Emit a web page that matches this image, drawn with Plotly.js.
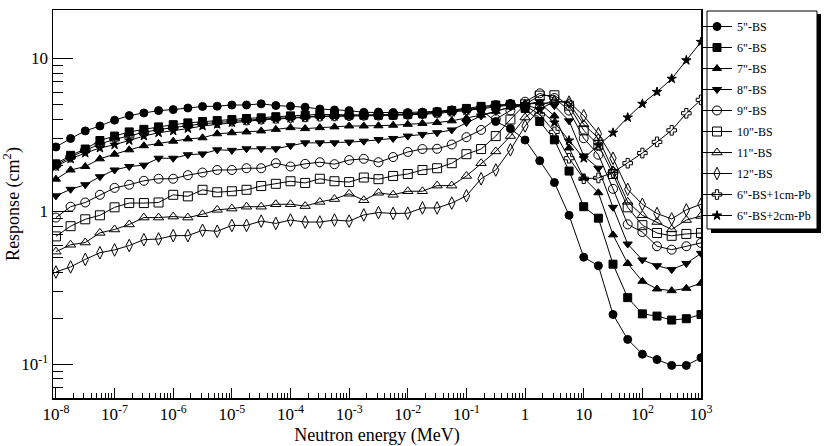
<!DOCTYPE html>
<html><head><meta charset="utf-8">
<script src="https://cdn.plot.ly/plotly-3.0.1.min.js"></script>
<style>html,body{margin:0;padding:0;background:#fff}</style>
</head><body>
<div id="chart" style="width:830px;height:446px"></div>
<script>
const energy = [1e-8,1.778e-8,3.162e-8,5.623e-8,1e-7,1.778e-7,3.162e-7,5.623e-7,1e-6,1.778e-6,3.162e-6,5.623e-6,
1e-5,1.778e-5,3.162e-5,5.623e-5,1e-4,1.778e-4,3.162e-4,5.623e-4,1e-3,1.778e-3,3.162e-3,5.623e-3,
1e-2,1.778e-2,3.162e-2,5.623e-2,0.1,0.1778,0.3162,0.5623,1,1.778,3.162,5.623,10,17.78,31.62,56.23,100,177.8,316.2,562.3,1000];

const bs5 = [2.63,2.99,3.35,3.61,3.94,4.22,4.39,4.55,4.62,4.73,4.84,4.86,4.95,4.95,5.04,4.91,4.86,4.79,4.66,4.59,4.55,4.43,
4.45,4.42,4.42,4.45,4.5,4.6,4.7,4.6,3.86,3.47,2.92,2.14,1.54,0.94,0.50,0.44,0.211,0.145,0.116,0.107,0.098,0.098,0.110];
const bs6 = [2.04,2.32,2.55,2.90,3.10,3.30,3.43,3.56,3.68,3.78,3.86,3.92,3.98,4.04,4.08,4.15,4.2,4.25,4.3,4.28,4.25,4.25,
4.25,4.25,4.3,4.35,4.45,4.55,4.7,4.85,4.95,5.0,4.7,3.86,2.93,1.83,1.07,0.90,0.45,0.272,0.213,0.206,0.194,0.198,0.211];
const bs7 = [1.62,1.86,1.96,2.20,2.36,2.52,2.68,2.77,2.87,2.97,3.02,3.21,3.26,3.30,3.35,3.43,3.52,3.47,3.52,3.56,3.61,3.61,
3.62,3.65,3.7,3.75,3.8,3.9,4.05,4.25,4.5,4.8,5.0,5.1,4.2,2.59,1.65,1.32,0.70,0.455,0.348,0.31,0.302,0.313,0.338];
const bs8 = [1.26,1.39,1.49,1.68,1.86,1.96,2.00,2.22,2.22,2.34,2.37,2.52,2.50,2.56,2.56,2.56,2.68,2.80,2.80,2.80,2.83,2.87,
2.94,2.99,3.10,3.18,3.26,3.40,3.80,4.2,4.5,4.8,5.0,5.2,4.9,3.9,2.3,1.91,1.06,0.61,0.48,0.44,0.415,0.455,0.53];
const bs9 = [0.908,1.07,1.14,1.28,1.42,1.49,1.58,1.63,1.63,1.72,1.79,1.86,1.86,1.91,1.91,2.06,1.96,2.04,2.09,2.03,2.16,2.20,
2.09,2.26,2.44,2.55,2.56,2.73,3.05,3.40,4.0,4.55,5.2,5.9,5.5,4.55,3.0,2.34,1.40,0.82,0.73,0.59,0.56,0.59,0.62];
const bs10 = [0.684,0.798,0.885,0.94,1.06,1.13,1.13,1.14,1.28,1.25,1.38,1.33,1.35,1.38,1.46,1.51,1.57,1.53,1.63,1.57,1.55,1.66,
1.62,1.70,1.75,1.86,1.91,2.06,2.36,2.55,3.10,3.98,5.0,5.7,5.73,4.9,3.38,2.72,1.75,1.06,0.81,0.72,0.69,0.71,0.72];
const bs11 = [0.544,0.603,0.624,0.721,0.759,0.819,0.908,0.908,0.922,0.908,0.955,1.02,1.04,1.07,1.07,1.11,1.11,1.08,1.15,1.20,1.30,1.18,
1.32,1.28,1.35,1.35,1.47,1.47,1.70,2.06,2.46,3.10,4.10,4.93,5.3,5.1,3.70,3.0,1.85,1.15,0.94,0.85,0.76,0.875,0.93];
const bs12 = [0.40,0.432,0.484,0.535,0.558,0.596,0.651,0.658,0.692,0.692,0.75,0.739,0.807,0.807,0.861,0.832,0.875,0.849,0.849,0.875,0.861,0.945,
0.98,0.966,0.97,1.05,1.05,1.13,1.26,1.63,1.86,2.52,3.61,4.66,5.2,5.17,4.21,3.21,2.22,1.39,1.11,0.965,0.89,1.02,1.11];
const bs6pb1 = [2.0,2.26,2.5,2.75,2.95,3.12,3.28,3.42,3.52,3.63,3.73,3.8,3.88,3.95,4.0,4.05,4.1,4.14,4.18,4.2,4.22,4.24,
4.25,4.27,4.3,4.35,4.42,4.5,4.62,4.75,4.9,5.0,4.9,4.3,3.3,2.22,1.63,1.65,1.79,2.06,2.40,2.84,3.38,4.37,5.35];
const bs6pb2 = [1.96,2.20,2.40,2.59,2.72,2.90,3.10,3.26,3.35,3.47,3.61,3.70,3.80,3.90,3.96,4.00,4.06,4.10,4.17,4.17,4.21,4.21,
4.22,4.24,4.27,4.3,4.36,4.44,4.55,4.68,4.82,4.95,5.0,4.6,3.8,2.9,2.22,2.7,3.26,4.10,5.04,6.03,7.35,9.7,12.8];

const names = ['5"-BS','6"-BS','7"-BS','8"-BS','9"-BS','10"-BS','11"-BS','12"-BS','6"-BS+1cm-Pb','6"-BS+2cm-Pb'];
const series = [bs5,bs6,bs7,bs8,bs9,bs10,bs11,bs12,bs6pb1,bs6pb2];
const symbols = ['circle','square','triangle-up','triangle-down','circle-open','square-open','triangle-up-open','diamond-tall-open','cross-open','star'];
const sizes = [8,8,8,8,9,9,9,9,8,7];

const xTickVals = [1e-8,1e-7,1e-6,1e-5,1e-4,1e-3,1e-2,1e-1,1,10,100,1000];
const xTickText = ['10<sup>-8</sup>','10<sup>-7</sup>','10<sup>-6</sup>','10<sup>-5</sup>','10<sup>-4</sup>','10<sup>-3</sup>','10<sup>-2</sup>','10<sup>-1</sup>','1','10','10<sup>2</sup>','10<sup>3</sup>'];
const yTickVals = [0.1,1,10];
const yTickText = ['10<sup>-1</sup>','1','10'];

const xMinor = [];
for (let d = -8; d < 3; d++) for (let k = 2; k <= 9; k++) xMinor.push(k * Math.pow(10, d));
const yMinor = [0.07,0.08,0.09];
for (let d = -1; d < 1; d++) for (let k = 2; k <= 9; k++) yMinor.push(k * Math.pow(10, d));

const traces = series.map((s, i) => ({
  x: energy, y: s, name: names[i], type: 'scatter', mode: 'lines+markers',
  legendgroup: 'g' + i,
  line: {color: '#000', width: 1},
  marker: {symbol: symbols[i], size: sizes[i], color: '#000', line: {color: '#000', width: 1}}
}));

const font = '"Liberation Serif", "Times New Roman", serif';
const L = 53, R = 701, T = 10, B = 398;
const px = v => (v - L) / (R - L), py = v => (B - v) / (B - T);

const layout = {
  width: 830, height: 446,
  margin: {l: L, r: 830 - R, t: T, b: 446 - B},
  paper_bgcolor: '#fff', plot_bgcolor: '#fff',
  font: {family: font, color: '#000', size: 17},
  showlegend: true,
  legend: {x: px(697), y: py(12), xanchor: 'left', yanchor: 'top', bgcolor: 'rgba(0,0,0,0)', borderwidth: 0,
           font: {family: font, size: 12, color: '#000'}, tracegroupgap: 2, itemwidth: 30},
  xaxis: {type: 'log', range: [-8.05, 3.0], tickmode: 'array', tickvals: xTickVals, ticktext: xTickText,
          ticks: 'inside', ticklen: 10, tickwidth: 1, tickcolor: '#000', showgrid: false, zeroline: false,
          showline: true, linecolor: '#000', linewidth: 1.5, mirror: true,
          minor: {tickmode: 'array', tickvals: xMinor, ticks: 'inside', ticklen: 5, tickwidth: 1, tickcolor: '#000', showgrid: false},
          tickfont: {family: font, size: 17},
          title: {text: 'Neutron energy (MeV)', font: {family: font, size: 18}, standoff: 6}},
  yaxis: {type: 'log', range: [-1.222, 1.316], tickmode: 'array', tickvals: yTickVals, ticktext: yTickText,
          ticks: 'inside', ticklen: 20, tickwidth: 1, tickcolor: '#000', showgrid: false, zeroline: false,
          showline: true, linecolor: '#000', linewidth: 1.5, mirror: true,
          minor: {tickmode: 'array', tickvals: yMinor, ticks: 'inside', ticklen: 10, tickwidth: 1, tickcolor: '#000', showgrid: false},
          tickfont: {family: font, size: 17},
          title: {text: 'Response (cm<sup>2</sup>)', font: {family: font, size: 18}, standoff: 4}},
  shapes: [
    {type: 'rect', xref: 'paper', yref: 'paper', x0: px(711), x1: px(821), y0: py(233), y1: py(14), fillcolor: '#000', line: {width: 0}},
    {type: 'rect', xref: 'paper', yref: 'paper', x0: px(707), x1: px(817), y0: py(229), y1: py(11), fillcolor: '#fff', line: {color: '#000', width: 1}}
  ]
};

Plotly.newPlot('chart', traces, layout, {displayModeBar: false, staticPlot: true});
</script>
</body></html>
